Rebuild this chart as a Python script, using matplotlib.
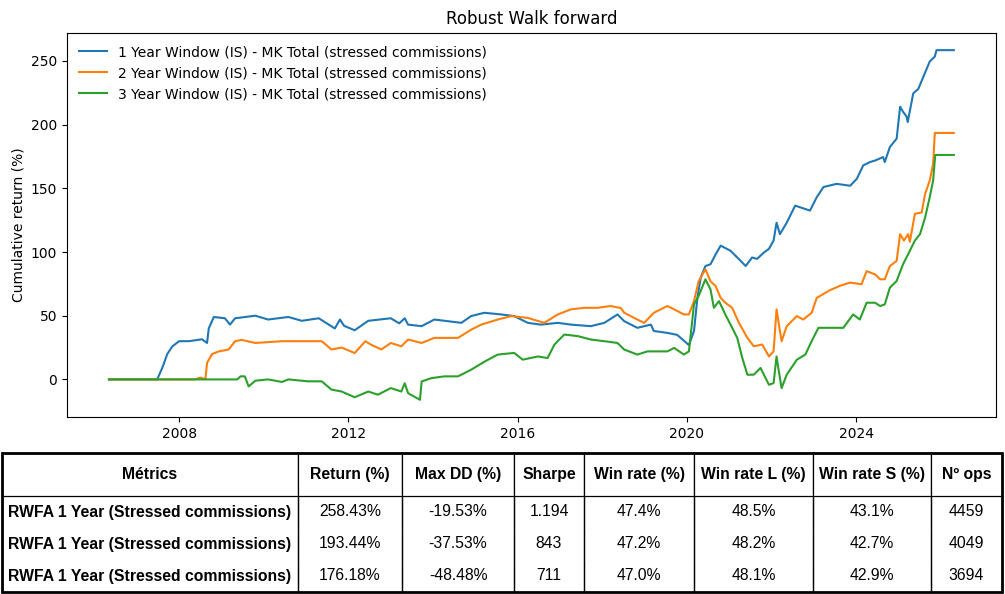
"""Robust walk forward: cumulative return curves plus summary metrics table."""

import matplotlib

matplotlib.use("Agg")
import matplotlib.dates as mdates
import matplotlib.pyplot as plt
import pandas as pd
from matplotlib.patches import Rectangle

# --- series (decimal year, cumulative return %) ---
years_1y = [
    2006.34, 2007.48, 2007.60, 2007.72, 2007.84, 2008.00, 2008.23, 2008.54, 2008.66, 2008.70,
    2008.82, 2009.08, 2009.20, 2009.32, 2009.80, 2010.10, 2010.58, 2010.90, 2011.30, 2011.68,
    2011.80, 2011.90, 2012.15, 2012.47, 2013.00, 2013.20, 2013.33, 2013.41, 2013.73, 2014.03,
    2014.35, 2014.67, 2014.90, 2015.21, 2015.61, 2015.92, 2016.24, 2016.55, 2016.95, 2017.26,
    2017.73, 2018.05, 2018.36, 2018.52, 2018.83, 2019.15, 2019.22, 2019.54, 2019.77, 2020.05,
    2020.17, 2020.25, 2020.33, 2020.44, 2020.56, 2020.68, 2020.80, 2021.03, 2021.23, 2021.39,
    2021.54, 2021.66, 2021.82, 2021.94, 2022.05, 2022.12, 2022.20, 2022.36, 2022.56, 2022.91,
    2023.07, 2023.23, 2023.54, 2023.86, 2024.02, 2024.17, 2024.33, 2024.45, 2024.64, 2024.68,
    2024.80, 2024.96, 2025.04, 2025.11, 2025.19, 2025.22, 2025.35, 2025.47, 2025.59, 2025.74,
    2025.86, 2025.90, 2026.31,
]
ret_1y = [
    0, 0, 9, 20, 26, 30, 30, 31.5, 28.6, 40,
    49, 48, 43, 48, 50, 47, 49, 46, 48, 40,
    47, 42, 38.6, 46, 48, 44, 48, 43, 41.8, 47,
    45.7, 44.4, 49.7, 52.3, 51, 49.7, 44.4, 43, 44.4, 43,
    41.8, 44.4, 51, 45.7, 40.5, 43, 38, 36.5, 35, 27,
    38, 64, 80, 89, 90.4, 98, 105, 101, 94.4, 89,
    95.7, 94.6, 99.6, 102.5, 109, 123, 114, 123, 136.4, 132.5,
    143, 151, 153.5, 152, 157.5, 168, 170.6, 171.8, 174.5, 170.6,
    182.4, 189, 214, 210, 206.5, 202, 224.5, 228, 237.6, 249.5,
    253.4, 258.43, 258.43,
]

years_2y = [
    2006.34, 2008.38, 2008.50, 2008.62, 2008.66, 2008.78, 2008.94, 2009.17, 2009.32, 2009.48,
    2009.80, 2010.43, 2010.90, 2011.37, 2011.60, 2011.84, 2012.15, 2012.40, 2012.55, 2012.78,
    2013.00, 2013.25, 2013.41, 2013.73, 2014.03, 2014.59, 2014.90, 2015.14, 2015.53, 2015.85,
    2016.24, 2016.63, 2016.95, 2017.26, 2017.57, 2017.89, 2018.20, 2018.44, 2018.52, 2018.83,
    2018.99, 2019.22, 2019.54, 2019.70, 2019.93, 2020.05, 2020.17, 2020.28, 2020.44, 2020.56,
    2020.68, 2020.80, 2020.91, 2021.07, 2021.23, 2021.43, 2021.58, 2021.78, 2021.94, 2022.05,
    2022.12, 2022.20, 2022.24, 2022.36, 2022.60, 2022.75, 2022.95, 2023.07, 2023.38, 2023.62,
    2023.86, 2024.13, 2024.25, 2024.45, 2024.57, 2024.68, 2024.80, 2024.96, 2025.04, 2025.13,
    2025.23, 2025.27, 2025.39, 2025.55, 2025.63, 2025.74, 2025.82, 2025.86, 2026.31,
]
ret_2y = [
    0, 0, 1.5, 0, 13, 20, 22, 23.5, 30, 31,
    28.6, 30, 30, 30, 23.5, 25, 20.7, 30, 27, 23.5,
    28.6, 26, 31.3, 28.6, 32.6, 32.6, 39, 43, 47, 49.7,
    48.3, 44.4, 51, 55, 56.2, 56.2, 57.6, 56, 52.3, 47,
    44.4, 52.3, 57.6, 55, 51, 51, 61.5, 77, 86.5, 77,
    73.3, 64, 60.2, 56.2, 44.4, 32.6, 26, 27.4, 18, 22,
    55, 38, 30, 41.8, 49.7, 47, 52.3, 64, 70, 73.5,
    76, 74.7, 85, 82.4, 78.6, 78.6, 89, 93, 114, 109,
    114, 108, 130, 131, 145.6, 156, 169, 193.44, 193.44,
]

years_3y = [
    2006.34, 2009.37, 2009.45, 2009.55, 2009.64, 2009.80, 2010.10, 2010.43, 2010.58, 2011.05,
    2011.37, 2011.60, 2011.84, 2012.15, 2012.47, 2012.70, 2013.00, 2013.25, 2013.33, 2013.41,
    2013.69, 2013.73, 2013.96, 2014.27, 2014.59, 2014.90, 2015.22, 2015.53, 2015.92, 2016.12,
    2016.48, 2016.71, 2016.87, 2017.10, 2017.42, 2017.73, 2018.05, 2018.36, 2018.52, 2018.83,
    2019.07, 2019.54, 2019.70, 2019.93, 2020.05, 2020.17, 2020.28, 2020.44, 2020.56, 2020.64,
    2020.76, 2020.91, 2021.07, 2021.19, 2021.31, 2021.43, 2021.58, 2021.74, 2021.94, 2022.05,
    2022.12, 2022.20, 2022.24, 2022.36, 2022.60, 2022.80, 2022.95, 2023.11, 2023.38, 2023.70,
    2023.93, 2024.09, 2024.25, 2024.45, 2024.57, 2024.68, 2024.80, 2024.96, 2025.11, 2025.27,
    2025.39, 2025.51, 2025.63, 2025.74, 2025.82, 2025.87, 2026.31,
]
ret_3y = [
    0, 0, 2.4, 2.4, -5.5, -1, 0, -2, 0, -1.5,
    -1.5, -8, -9.5, -14, -9.5, -12, -6.8, -9.5, -3, -10.8,
    -16, -1.6, 1, 2.4, 2.4, 7.6, 14, 19.5, 20.8, 15.5,
    18, 16.8, 27.3, 35.2, 34, 31.3, 30, 28.6, 23.4, 19.5,
    22, 22, 24.7, 19.5, 22, 59, 65.5, 78.6, 70.7, 56.2,
    61.5, 51, 40.5, 32.6, 16.8, 3.7, 3.7, 9, -4.2, -2.9,
    18, 1, -6.8, 3.7, 15.5, 19.5, 30, 40.5, 40.5, 40.5,
    51, 47, 60.2, 60.2, 57.6, 58.9, 72, 77.3, 90.4, 101,
    109, 114, 127, 143, 156, 176.18, 176.18,
]

series_labels = [
    "1 Year Window (IS) - MK Total (stressed commissions)",
    "2 Year Window (IS) - MK Total (stressed commissions)",
    "3 Year Window (IS) - MK Total (stressed commissions)",
]

# --- metrics table ---
col_labels = ["Métrics", "Return (%)", "Max DD (%)", "Sharpe", "Win rate (%)",
              "Win rate L (%)", "Win rate S (%)", "Nº ops"]
row_names = ["RWFA 1 Year (Stressed commissions)"] * 3
returns = ["258.43%", "193.44%", "176.18%"]
max_dd = ["-19.53%", "-37.53%", "-48.48%"]
sharpe = ["1.194", "843", "711"]
win_rate = ["47.4%", "47.2%", "47.0%"]
win_rate_l = ["48.5%", "48.2%", "48.1%"]
win_rate_s = ["43.1%", "42.7%", "42.9%"]
n_ops = ["4459", "4049", "3694"]


def to_dates(years):
    out = []
    for y in years:
        base = int(y)
        out.append(pd.Timestamp(base, 1, 1) + pd.Timedelta(days=(y - base) * 365.25))
    return out


def main():
    fig = plt.figure(figsize=(10.05, 5.94), dpi=100)
    ax = fig.add_axes([0.0664, 0.2975, 0.9247, 0.6475])

    for years, values, label in zip(
        [years_1y, years_2y, years_3y], [ret_1y, ret_2y, ret_3y], series_labels
    ):
        ax.plot(to_dates(years), values, label=label)

    ax.set_title("Robust Walk forward")
    ax.set_ylabel("Cumulative return (%)")
    ax.xaxis.set_major_locator(mdates.YearLocator(4))
    ax.xaxis.set_major_formatter(mdates.DateFormatter("%Y"))
    ax.legend(loc="upper left", frameon=False)

    # table below the chart
    tax = fig.add_axes([2 / 1005, 2 / 594, 1000 / 1005, 139 / 594])
    tax.axis("off")
    rows = [list(r) for r in zip(row_names, returns, max_dd, sharpe, win_rate,
                                 win_rate_l, win_rate_s, n_ops)]
    widths = [296, 104, 112, 70, 110, 119, 118, 71]
    total = sum(widths)
    tbl = tax.table(cellText=rows, colLabels=col_labels,
                    colWidths=[w / total for w in widths],
                    cellLoc="center", bbox=[0, 0, 1, 1])
    tbl.auto_set_font_size(False)
    tbl.set_fontsize(11.3)
    for (r, c), cell in tbl.get_celld().items():
        cell.set_height(43 if r == 0 else 32)
        cell.set_linewidth(0.9)
        txt = cell.get_text()
        txt.set_fontfamily("Liberation Sans")
        if r == 0:
            cell.visible_edges = "closed"
            txt.set_fontweight("bold")
        else:
            cell.visible_edges = "LR"
            if c == 0:
                txt.set_fontweight("bold")
    tax.add_patch(Rectangle((0, 0), 1, 1, fill=False, lw=2, color="black",
                            transform=tax.transAxes, clip_on=False))

    fig.savefig("out.png", dpi=100)
    plt.close(fig)


if __name__ == "__main__":
    main()
